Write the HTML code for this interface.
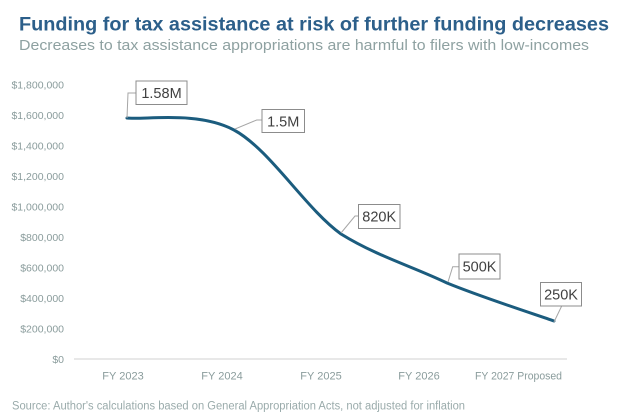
<!DOCTYPE html>
<html>
<head>
<meta charset="utf-8">
<style>
html,body{margin:0;padding:0;background:#fff;}
svg{display:block;}
text{font-family:"Liberation Sans",sans-serif;}
</style>
</head>
<body>
<svg width="624" height="416" viewBox="0 0 624 416" xmlns="http://www.w3.org/2000/svg">
<rect width="624" height="416" fill="#fff"/>
<text x="19" y="30.5" font-size="19" font-weight="bold" fill="#2c5f8a" textLength="590" lengthAdjust="spacingAndGlyphs">Funding for tax assistance at risk of further funding decreases</text>
<text x="19" y="50" font-size="14.5" fill="#8ea1a1" textLength="570" lengthAdjust="spacingAndGlyphs">Decreases to tax assistance appropriations are harmful to filers with low-incomes</text>

<g font-size="10.5" fill="#8a9c9c" text-anchor="end">
<text x="64" y="88.5">$1,800,000</text>
<text x="64" y="119">$1,600,000</text>
<text x="64" y="149.5">$1,400,000</text>
<text x="64" y="180">$1,200,000</text>
<text x="64" y="210.5">$1,000,000</text>
<text x="64" y="241">$800,000</text>
<text x="64" y="271.5">$600,000</text>
<text x="64" y="302">$400,000</text>
<text x="64" y="332.5">$200,000</text>
<text x="64" y="363">$0</text>
</g>
<line x1="74" y1="359" x2="567" y2="359" stroke="#d9d9d9" stroke-width="1.2"/>

<g font-size="11" fill="#8a9c9c" text-anchor="middle">
<text x="123" y="379.5">FY 2023</text>
<text x="222" y="379.5">FY 2024</text>
<text x="321" y="379.5">FY 2025</text>
<text x="419" y="379.5">FY 2026</text>
<text x="518.5" y="379.5" textLength="87" lengthAdjust="spacingAndGlyphs">FY 2027 Proposed</text>
</g>

<path d="M127,118 C144.8,120 198.3,110.7 234,130 C269.7,149.3 305.5,208.5 341,234 C376.5,256 411.5,266 447,283 C482.5,297.5 536.2,314.7 554,321" fill="none" stroke="#1b5c7e" stroke-width="3" stroke-linecap="round"/>

<g fill="none" stroke="#a6a6a6" stroke-width="1">
<polyline points="127,118 128,93 136,93"/>
<polyline points="235,129 256.7,120 262,120"/>
<polyline points="341,233 355,216 358,216"/>
<polyline points="448,282 452.7,266.7 459,266.7"/>
<polyline points="554,322 561.7,306"/>
</g>

<g fill="#fff" stroke="#8c8c8c" stroke-width="1">
<rect x="136" y="81" width="51" height="23.5"/>
<rect x="262" y="109.5" width="42.5" height="23"/>
<rect x="358.5" y="204.5" width="41.5" height="24"/>
<rect x="459" y="254" width="41" height="25"/>
<rect x="540.5" y="282.5" width="41" height="23.5"/>
</g>
<g font-size="14.5" fill="#404040" text-anchor="middle">
<text x="161.5" y="98">1.58M</text>
<text x="283.2" y="126.5">1.5M</text>
<text x="379.2" y="221.5">820K</text>
<text x="479.5" y="271.5">500K</text>
<text x="561" y="299.5">250K</text>
</g>

<text x="12" y="409.3" font-size="11.5" fill="#9aabab" textLength="453" lengthAdjust="spacingAndGlyphs">Source: Author's calculations based on General Appropriation Acts, not adjusted for inflation</text>
</svg>
</body>
</html>
